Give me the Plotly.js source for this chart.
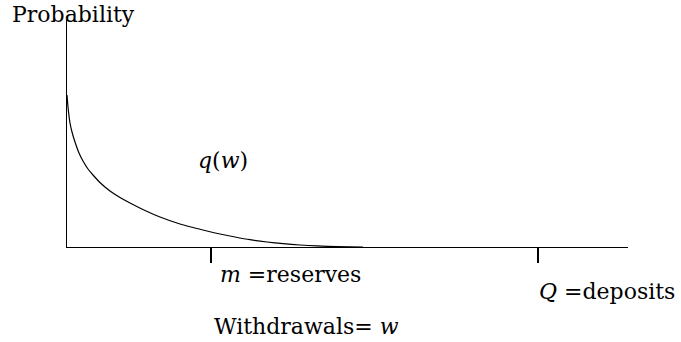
<!DOCTYPE html>
<html>
<head>
<meta charset="utf-8">
<script src="https://cdn.plot.ly/plotly-3.0.1.min.js"></script>
<style>
  html, body { margin: 0; padding: 0; background: #fff; }
  #chart { width: 681px; height: 342px; }
</style>
</head>
<body>
<div id="chart"></div>
<script>
// withdrawals w (horizontal units) and probability q(w)
const withdrawals = [0, 1, 3, 5, 8, 12, 16, 21, 26, 34, 43, 53, 63, 78, 93, 110, 126, 140, 153, 168, 183, 200, 216, 233, 250, 270, 296];
const probability = [152, 140, 124, 115, 105, 94, 86, 78, 72, 63.5, 56, 49.5, 44, 36.5, 30, 24, 19.5, 16, 13, 10, 7.3, 5, 3.3, 2, 1.1, 0.4, 0];

// marked points on the withdrawals axis: m (reserves) and Q (deposits)
const markPositions = [144, 471];
const markLabels = ['<i>m</i> =reserves', '<i>Q</i> =deposits'];

const yTitle = 'Probability';
const xTitle = 'Withdrawals= <i>w</i>';
const curveLabel = '<i>q</i>(<i>w</i>)';

const xMax = 561, yMax = 227;
const serif = { family: 'DejaVu Serif', size: 22, color: '#000' };

let trace = {
  type: 'scatter',
  mode: 'lines',
  x: withdrawals,
  y: probability,
  line: { color: '#000', width: 1.2, shape: 'spline', smoothing: 0.6 },
  hoverinfo: 'skip'
};

// labels sit partly outside the axes, so place them in paper units
let annotations = [
  { text: yTitle, x: -57, y: 233 },
  { text: curveLabel, x: 129, y: 87 },
  { text: markLabels[0], x: markPositions[0] + 7, y: -27 },
  { text: markLabels[1], x: markPositions[1] - 1, y: -44 },
  { text: xTitle, x: markPositions[0] + 1, y: -79 }
].map(a => ({
  text: a.text,
  x: a.x / xMax, y: a.y / yMax,
  xref: 'paper', yref: 'paper', xanchor: 'left', yanchor: 'middle',
  showarrow: false, font: serif
}));

let layout = {
  width: 681,
  height: 342,
  margin: { l: 67, r: 53, t: 20, b: 95 },
  paper_bgcolor: '#fff',
  plot_bgcolor: '#fff',
  showlegend: false,
  xaxis: {
    range: [0, xMax],
    showline: true, linecolor: '#000', linewidth: 1.3,
    showgrid: false, zeroline: false,
    ticks: 'outside', ticklen: 15, tickwidth: 1.3, tickcolor: '#000',
    tickvals: markPositions, showticklabels: false
  },
  yaxis: {
    range: [0, yMax],
    showline: true, linecolor: '#000', linewidth: 1.3,
    showgrid: false, zeroline: false,
    ticks: '', showticklabels: false
  },
  annotations: annotations
};

Plotly.newPlot('chart', [trace], layout, { staticPlot: true });
</script>
</body>
</html>
